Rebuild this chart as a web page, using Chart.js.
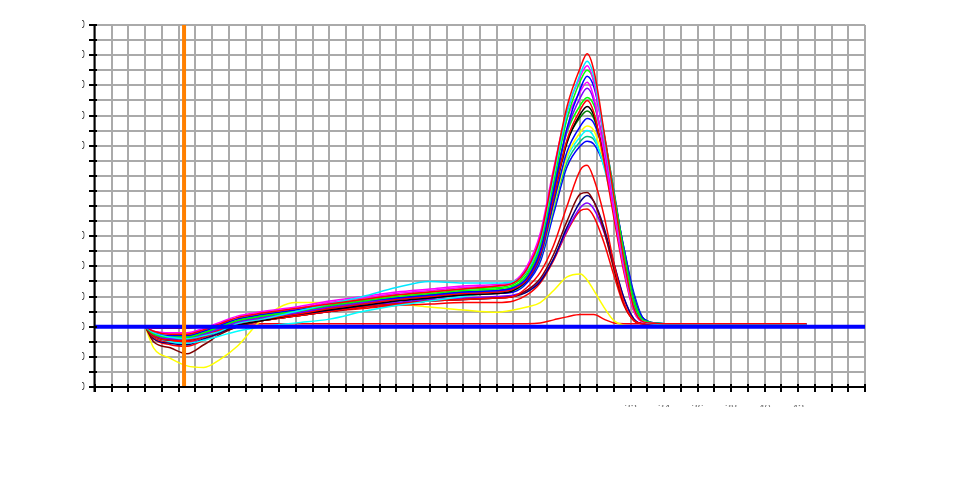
<!DOCTYPE html>
<html><head><meta charset="utf-8">
<script src="https://cdn.jsdelivr.net/npm/chart.js@4/dist/chart.umd.min.js"></script>
<style>html,body{margin:0;padding:0;background:#fff;}canvas{display:block}</style>
</head><body>
<canvas id="c" width="960" height="477"></canvas>
<script>
// x positions (grid units) shared by all curves
const xPos = [3,3.5,4.5,5.5,6.5,7.5,8.5,10,12,14,16,18,20,22,24,25,25.8,26.6,27.4,28.2,29,29.4,29.8,30.4,31,31.6,32.2,32.8,34,42.5];

const redA     = [0,-0.3,-0.5,-0.5,-0.2,0.2,0.6,0.9,1.2,1.5,1.8,2.1,2.3,2.5,2.7,2.9,3.8,5.9,10.3,14.6,17.2,18.1,17.0,13.0,8.6,4.4,1.2,0.3,0.2,0.2];
const cyanA    = [0,-0.4,-0.7,-0.8,-0.6,-0.3,0.2,0.5,1.0,1.5,2.0,2.6,3.0,2.9,2.9,3.0,3.7,5.7,10.0,14.2,16.8,17.6,16.6,12.7,8.4,4.3,1.2,0.3,0.15,0.15];
const magentaA = [0,-0.3,-0.4,-0.4,-0.1,0.3,0.7,1.0,1.3,1.7,2.0,2.3,2.5,2.7,2.8,3.0,4.0,6.2,10.5,14.3,16.6,17.3,16.2,12.4,8.2,4.2,1.1,0.3,0.2,0.2];
const limeA    = [0,-0.5,-0.7,-0.7,-0.4,0.0,0.4,0.7,1.0,1.4,1.7,2.0,2.2,2.4,2.5,2.7,3.4,5.4,9.6,13.8,16.3,17.0,16.3,12.9,8.9,4.9,1.6,0.4,0.2,0.2];
const blueA    = [0,-0.4,-0.6,-0.6,-0.3,0.1,0.5,0.8,1.1,1.4,1.7,1.9,2.1,2.3,2.4,2.6,3.2,5.0,9.0,13.2,15.8,16.6,15.9,12.8,9.0,5.0,1.6,0.4,0.2,0.1];
const magentaB = [0,-0.3,-0.5,-0.5,-0.2,0.2,0.6,0.9,1.2,1.6,1.9,2.2,2.4,2.6,2.7,2.9,3.9,6.0,10.2,13.8,15.6,16.2,15.2,11.6,7.6,3.8,1.0,0.3,0.2,0.2];
const violetA  = [0,-0.5,-0.8,-0.8,-0.5,-0.1,0.3,0.6,0.9,1.3,1.6,1.9,2.1,2.3,2.4,2.6,3.3,5.2,9.2,13.0,15.2,15.8,15.0,11.8,8.0,4.2,1.3,0.3,0.15,0.15];
const limeB    = [0,-0.4,-0.6,-0.6,-0.3,0.1,0.5,0.8,1.1,1.5,1.8,2.1,2.3,2.5,2.6,2.8,3.6,5.6,9.4,12.9,14.7,15.2,14.7,12.2,8.8,5.0,1.8,0.4,0.2,0.2];
const redB     = [0,-0.6,-0.9,-0.9,-0.6,-0.2,0.2,0.5,0.8,1.2,1.5,1.8,2.0,2.2,2.3,2.5,3.1,4.8,8.6,12.4,14.4,15.0,14.2,11.0,7.2,3.6,1.0,0.3,0.2,0.2];
const blackA   = [0,-0.6,-0.9,-0.9,-0.6,-0.3,0.1,0.4,0.8,1.1,1.4,1.7,1.9,2.1,2.2,2.4,3.1,4.9,8.6,12.2,14.1,14.6,14.0,11.3,7.8,4.1,1.3,0.3,0.2,0.2];
const greenA   = [0,-0.5,-0.7,-0.7,-0.4,0.0,0.4,0.7,1.0,1.3,1.6,1.9,2.1,2.3,2.4,2.6,3.4,5.3,9.0,12.3,13.9,14.3,13.8,11.4,8.3,4.7,1.7,0.4,0.2,0.2];
const blueB    = [0,-0.5,-0.8,-0.8,-0.5,-0.1,0.3,0.6,0.9,1.2,1.5,1.8,2.0,2.2,2.3,2.5,3.0,4.6,8.2,11.6,13.3,13.8,13.5,11.5,8.6,5.2,2.0,0.5,0.15,0.15];
const yellowA  = [0,-0.4,-0.6,-0.6,-0.3,0.1,0.5,0.8,1.1,1.4,1.7,2.0,2.2,2.3,2.4,2.6,3.1,4.6,8.0,11.3,12.9,13.3,13.0,11.0,8.2,4.9,1.9,0.4,0.2,0.2];
const cyanB    = [0,-0.6,-1.0,-1.1,-0.9,-0.6,-0.3,0.0,0.25,0.5,1.0,1.4,1.7,2.0,2.3,2.5,3.2,4.8,8.2,11.2,12.6,13.0,12.6,10.6,7.8,4.6,1.7,0.4,0.2,0.2];
const tealA    = [0,-0.5,-0.8,-0.8,-0.5,-0.1,0.3,0.6,0.9,1.2,1.5,1.8,2.0,2.2,2.3,2.4,3.0,4.5,7.8,10.9,12.3,12.6,12.4,10.8,8.2,5.0,2.0,0.5,0.2,0.2];
const blueC    = [0,-0.6,-0.9,-0.9,-0.6,-0.2,0.2,0.5,0.8,1.1,1.4,1.7,1.9,2.1,2.2,2.3,2.9,4.3,7.5,10.6,12.0,12.3,12.1,10.7,8.3,5.2,2.2,0.5,0.2,0.2];
const redC     = [0,-0.7,-1.0,-1.0,-0.7,-0.3,0.1,0.4,0.7,1.0,1.3,1.5,1.7,1.8,1.9,2.0,2.6,3.6,5.4,8.0,10.4,10.7,9.8,7.4,4.2,1.6,0.4,0.2,0.2,0.2];
const maroonA  = [0,-1.0,-1.4,-1.8,-1.2,-0.5,0.0,0.4,0.7,1.0,1.3,1.5,1.7,1.8,1.9,2.0,2.4,3.2,4.8,7.0,8.8,8.9,8.3,6.4,3.8,1.5,0.4,0.2,0.2,0.2];
const navyA    = [0,-0.8,-1.1,-1.2,-0.8,-0.4,0.0,0.4,0.7,1.0,1.3,1.5,1.7,1.8,1.9,2.0,2.3,3.0,4.5,6.6,8.3,8.7,8.3,6.6,4.2,1.9,0.5,0.2,0.2,0.2];
const purpleA  = [0,-0.7,-1.0,-1.1,-0.7,-0.3,0.1,0.5,0.8,1.1,1.4,1.6,1.8,1.9,2.0,2.1,2.4,3.1,4.5,6.4,7.9,8.2,7.8,6.3,4.1,1.9,0.5,0.2,0.2,0.2];
const redD     = [0,-0.8,-1.2,-1.3,-0.9,-0.4,0.0,0.4,0.7,1.0,1.2,1.4,1.5,1.6,1.6,1.7,2.1,2.9,4.4,6.3,7.7,7.8,7.3,5.6,3.4,1.4,0.4,0.2,0.2,0.2];
const yellowB  = [0,-1.4,-2.1,-2.6,-2.7,-2.15,-1.3,0.5,1.6,1.6,1.6,1.5,1.3,1.1,0.95,1.1,1.3,1.6,2.4,3.3,3.5,3.1,2.4,1.3,0.4,0.1,0.05,0.05,0.05,0.05];
const redE     = [0,-0.1,-0.1,-0.1,0,0.1,0.15,0.2,0.2,0.2,0.2,0.2,0.2,0.2,0.2,0.2,0.2,0.25,0.45,0.65,0.8,0.8,0.8,0.5,0.25,0.2,0.2,0.2,0.2,0.2];

const seriesList = [
  ['redA', redA, '#ff0000'], ['cyanA', cyanA, '#00e8ff'], ['magentaA', magentaA, '#ff00ff'],
  ['limeA', limeA, '#00ff00'], ['blueA', blueA, '#0000ff'], ['magentaB', magentaB, '#ff00ff'],
  ['violetA', violetA, '#8000ff'], ['limeB', limeB, '#00ff00'], ['redB', redB, '#ff0000'],
  ['blackA', blackA, '#000000'], ['greenA', greenA, '#008000'], ['blueB', blueB, '#0000ff'],
  ['yellowA', yellowA, '#ffff00'], ['cyanB', cyanB, '#00ffff'], ['tealA', tealA, '#00c080'],
  ['blueC', blueC, '#0000ff'], ['redC', redC, '#ff0000'], ['maroonA', maroonA, '#800000'],
  ['navyA', navyA, '#000080'], ['purpleA', purpleA, '#8000ff'], ['redD', redD, '#ff0000'],
  ['yellowB', yellowB, '#ffff00'], ['redE', redE, '#ff0000']
];

const baselineY = 0;
const markerX = 5.32;
const xRange = [0, 46];
const yRange = [-4, 20];
const yLabelVals = [-4,-2,0,2,4,6,8,10,12,14,16,18,20];
const yLabelText = ['-40','-20','0','20','40','60','','','120','140','160','180','200'];
const xLabelVals = [32,34,36,38,40,42];
const xLabelText = ['32','34','36','38','40','42'];

const datasets = seriesList.map(([name, vals, color]) => ({
  label: name,
  data: vals.map((v, i) => ({x: xPos[i], y: v})),
  borderColor: color,
  borderWidth: 1.5,
  pointRadius: 0,
  fill: false,
  tension: 0.25,
  cubicInterpolationMode: 'monotone'
}));
datasets.push({
  label: 'baseline',
  data: [{x: xRange[0], y: baselineY}, {x: xRange[1], y: baselineY}],
  borderColor: '#0000ff', borderWidth: 4, pointRadius: 0, order: -1
});
datasets.push({
  label: 'marker',
  data: [{x: markerX, y: yRange[0]}, {x: markerX, y: yRange[1]}],
  borderColor: '#ff8000', borderWidth: 4, pointRadius: 0, order: -2
});

const axesPlugin = {
  id: 'axesPlugin',
  afterDatasetsDraw(chart) {
    const {ctx, chartArea: a, scales: {x, y}} = chart;
    ctx.save();
    ctx.strokeStyle = '#000';
    ctx.lineWidth = 2;
    ctx.beginPath();
    ctx.moveTo(a.left - 0.5, a.top - 1);
    ctx.lineTo(a.left - 0.5, a.bottom + 5);
    ctx.moveTo(a.left - 1, a.bottom);
    ctx.lineTo(a.right + 1, a.bottom);
    for (let v = yRange[0]; v <= yRange[1]; v++) {
      const py = Math.round(y.getPixelForValue(v));
      ctx.moveTo(a.left - 6, py);
      ctx.lineTo(a.left + 2, py);
    }
    for (let u = xRange[0]; u <= xRange[1]; u++) {
      const px = Math.round(x.getPixelForValue(u));
      ctx.moveTo(px, a.bottom - 3);
      ctx.lineTo(px, a.bottom + 5);
    }
    ctx.stroke();
    ctx.restore();

    // y labels (mostly clipped, only right edges visible)
    ctx.save();
    ctx.beginPath();
    ctx.rect(82, 0, 2.5, 477);
    ctx.clip();
    ctx.fillStyle = '#222';
    ctx.font = '11px "Liberation Sans", Arial, sans-serif';
    ctx.textAlign = 'right';
    ctx.textBaseline = 'middle';
    yLabelVals.forEach((v, i) => ctx.fillText(yLabelText[i], 85, y.getPixelForValue(v)));
    ctx.restore();

    // x labels (only top edge visible)
    ctx.save();
    ctx.beginPath();
    ctx.rect(0, 405, 960, 2);
    ctx.clip();
    ctx.fillStyle = '#777';
    ctx.font = '11px "Liberation Sans", Arial, sans-serif';
    ctx.textAlign = 'center';
    ctx.textBaseline = 'top';
    xLabelVals.forEach((u, i) => ctx.fillText(xLabelText[i], x.getPixelForValue(u), 403));
    ctx.restore();
  }
};

new Chart(document.getElementById('c'), {
  type: 'line',
  data: {datasets},
  options: {
    responsive: false,
    animation: false,
    layout: {padding: {left: 95, top: 25, right: 95, bottom: 90}},
    plugins: {legend: {display: false}, tooltip: {enabled: false}},
    scales: {
      x: {
        type: 'linear', min: xRange[0], max: xRange[1],
        ticks: {display: false, stepSize: 1},
        grid: {color: '#aaaaaa', lineWidth: 2, drawTicks: false},
        border: {display: false}
      },
      y: {
        type: 'linear', min: yRange[0], max: yRange[1],
        ticks: {display: false, stepSize: 1},
        grid: {color: '#aaaaaa', lineWidth: 2, drawTicks: false},
        border: {display: false}
      }
    }
  },
  plugins: [axesPlugin]
});
</script>
</body></html>
